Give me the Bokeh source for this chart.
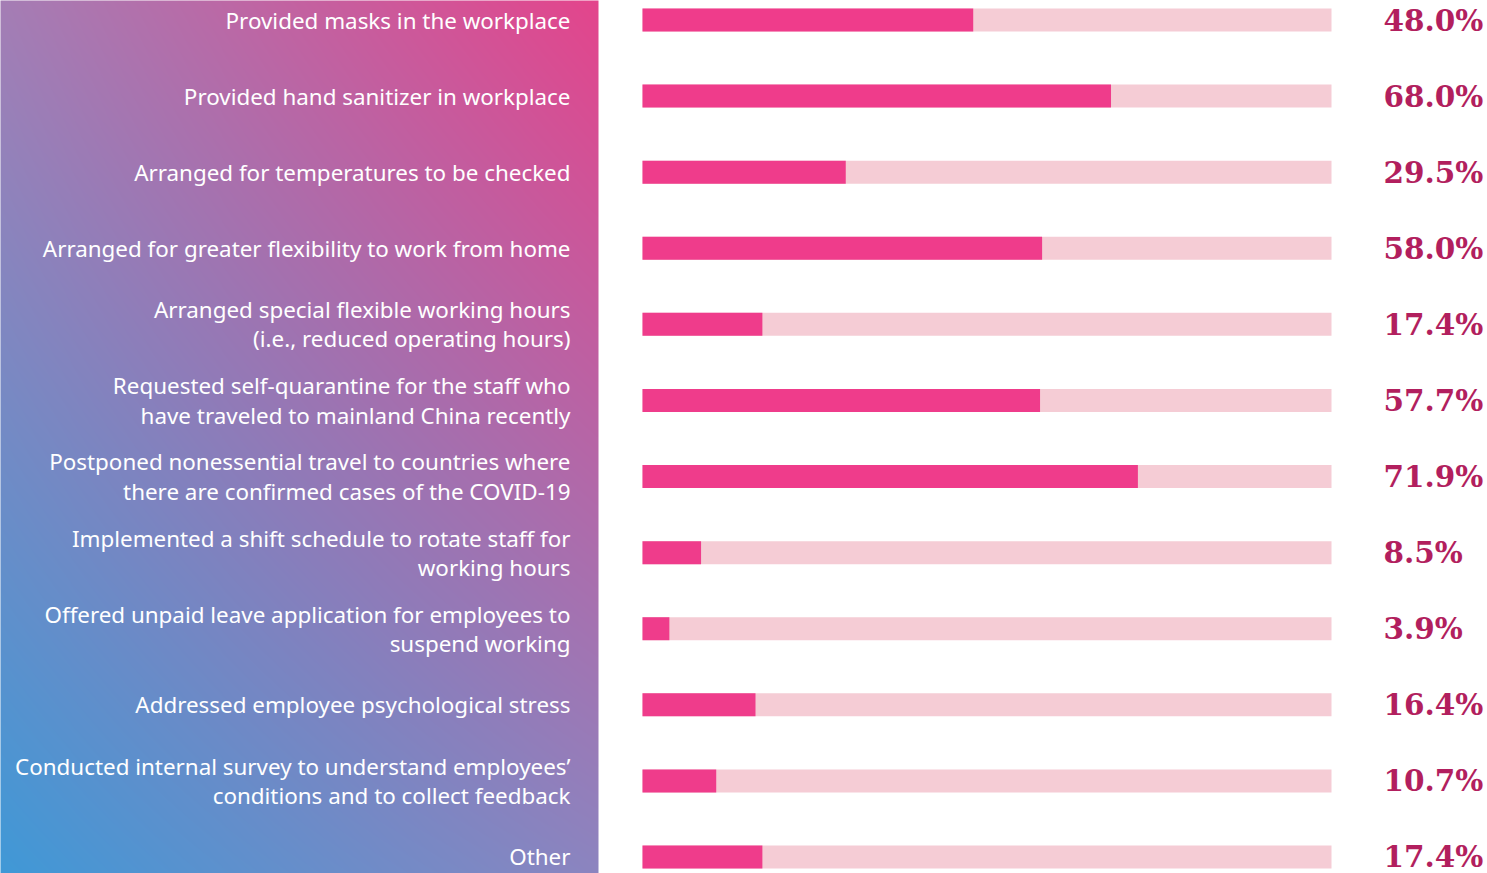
import numpy as np
from bokeh.plotting import figure
from bokeh.models import Range1d, ColumnDataSource
from bokeh.core.properties import value
from bokeh.embed import file_html
from bokeh.resources import INLINE

categories = [
    "Provided masks in the workplace",
    "Provided hand sanitizer in workplace",
    "Arranged for temperatures to be checked",
    "Arranged for greater flexibility to work from home",
    "Arranged special flexible working hours\n(i.e., reduced operating hours)",
    "Requested self-quarantine for the staff who\nhave traveled to mainland China recently",
    "Postponed nonessential travel to countries where\nthere are confirmed cases of the COVID-19",
    "Implemented a shift schedule to rotate staff for\nworking hours",
    "Offered unpaid leave application for employees to\nsuspend working",
    "Addressed employee psychological stress",
    "Conducted internal survey to understand employees\u2019\nconditions and to collect feedback",
    "Other",
]
values = [48.0, 68.0, 29.5, 58.0, 17.4, 57.7, 71.9, 8.5, 3.9, 16.4, 10.7, 17.4]
full_scale = 100.0
value_labels = [f"{v:.1f}%" for v in values]

W, H = 1487, 873
px_per_unit = 6.89          # pixels per percentage point
bar_origin_px = 642
row_pitch = 76.09
first_row_px = 19.5

x0 = -bar_origin_px / px_per_unit
x1 = (W - bar_origin_px) / px_per_unit
y_top = -first_row_px / row_pitch
y_bot = (H - first_row_px) / row_pitch

p = figure(width=W, height=H, output_backend="svg", toolbar_location=None,
           x_range=Range1d(x0, x1), y_range=Range1d(y_bot, y_top),
           min_border=0, min_border_left=0, min_border_right=0,
           min_border_top=0, min_border_bottom=0)
p.axis.visible = False
p.grid.visible = False
p.outline_line_color = None
p.background_fill_color = "white"
p.border_fill_color = "white"

# gradient panel (bilinear between corner colours), slightly oversized to avoid edge seams
pad_x = 4 / px_per_unit
pad_y = 4 / row_pitch
panel_right = (598 - bar_origin_px) / px_per_unit
gw, gh = 606, 881
tl = np.array([165, 126, 181.0]); tr = np.array([228, 69, 140.0])
bl = np.array([63, 153, 215.0]); br = np.array([140, 133, 192.0])
u = np.linspace(0, 1, gw)[None, :, None]
v = np.linspace(0, 1, gh)[:, None, None]   # 0 = top, 1 = bottom
top = tl * (1 - u) + tr * u
bot = bl * (1 - u) + br * u
rgb = top * (1 - v) + bot * v
img = np.empty((gh, gw), dtype=np.uint32)
view = img.view(dtype=np.uint8).reshape((gh, gw, 4))
view[:, :, 0:3] = np.clip(rgb, 0, 255).astype(np.uint8)
view[:, :, 3] = 255
p.image_rgba(image=[img], x=x0 - pad_x, y=y_top - pad_y,
             dw=panel_right - x0 + pad_x, dh=y_bot - y_top + 2 * pad_y)

idx = list(range(len(categories)))
src = ColumnDataSource(dict(y=idx, cat=categories, val=values, lab=value_labels,
                            full=[full_scale] * len(values)))

bar_h = 23 / row_pitch
p.hbar(y="y", left=0, right="full", height=bar_h, source=src,
       fill_color="#F5CCD5", line_color=None)
p.hbar(y="y", left=0, right="val", height=bar_h, source=src,
       fill_color="#EF3C8B", line_color=None)

label_x = (570 - bar_origin_px) / px_per_unit
p.text(x=label_x, y="y", text="cat", source=src, text_align="right",
       text_baseline="middle", text_color="white",
       text_font=value("Noto Sans"), text_font_size="22.4px", text_line_height=0.94)

val_x = (1383 - bar_origin_px) / px_per_unit
p.text(x=val_x, y="y", text="lab", source=src, text_align="left",
       text_baseline="middle", text_color="#B21F5E",
       text_font=value("DejaVu Serif"), text_font_style="bold", text_font_size="29.5px")

html = file_html(p, INLINE)
html = html.replace("</head>", "<style>html,body{margin:0;padding:0;}</style></head>", 1)
open("out.html", "w").write(html)
